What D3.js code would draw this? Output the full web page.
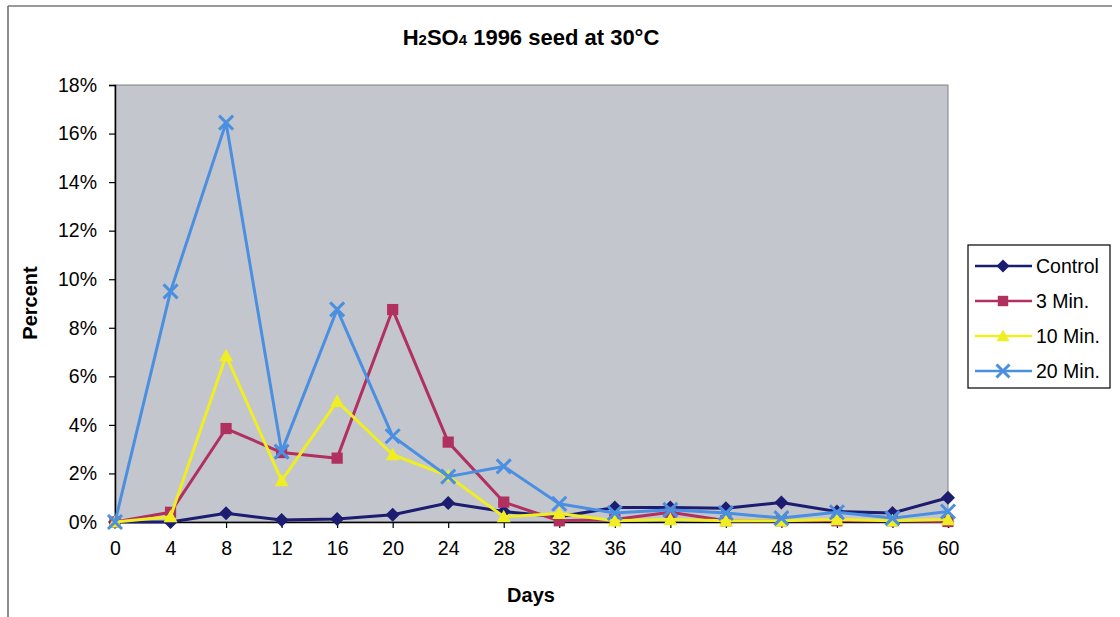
<!DOCTYPE html>
<html>
<head>
<meta charset="utf-8">
<script src="https://cdn.jsdelivr.net/npm/d3@7"></script>
<style>
  body { margin: 0; background: #fff; }
  svg { display: block; font-family: Arial, "Liberation Sans", sans-serif; }
</style>
</head>
<body>
<div id="chart"></div>
<script>
// data (percent)
const days = [0, 4, 8, 12, 16, 20, 24, 28, 32, 36, 40, 44, 48, 52, 56, 60];
const control = [0, 0, 0.36, 0.08, 0.12, 0.3, 0.78, 0.43, 0.22, 0.6, 0.6, 0.57, 0.8, 0.43, 0.37, 1.0];
const min3 = [0, 0.4, 3.85, 2.86, 2.63, 8.75, 3.29, 0.82, 0.05, 0.1, 0.4, 0.05, 0.05, 0.05, 0.05, 0.02];
const min10 = [0, 0.22, 6.85, 1.7, 4.97, 2.77, 1.9, 0.22, 0.35, 0.05, 0.1, 0.05, 0.05, 0.1, 0.05, 0.1];
const min20 = [0, 9.5, 16.45, 2.9, 8.76, 3.53, 1.87, 2.29, 0.75, 0.37, 0.5, 0.37, 0.16, 0.4, 0.16, 0.43];
const yTicks = [0, 2, 4, 6, 8, 10, 12, 14, 16, 18];

const series = [
  { name: "Control", values: control, color: "#1c1c70", marker: "diamond" },
  { name: "3 Min.", values: min3, color: "#b0305f", marker: "square" },
  { name: "10 Min.", values: min10, color: "#eeee22", marker: "triangle" },
  { name: "20 Min.", values: min20, color: "#4a8fe0", marker: "cross" }
];

const W = 1120, H = 617;
const plot = { left: 115, right: 948, top: 85, bottom: 522 };

const svg = d3.select("#chart").append("svg")
  .attr("width", W).attr("height", H);

// outer frame (scanned chart border)
svg.append("line").attr("x1", 8).attr("x2", 8).attr("y1", 6).attr("y2", H)
  .attr("stroke", "#666").attr("stroke-width", 1.5);
svg.append("line").attr("x1", 8).attr("x2", 1112).attr("y1", 6).attr("y2", 6)
  .attr("stroke", "#777").attr("stroke-width", 1.5);

const x = d3.scaleLinear().domain([0, 60]).range([plot.left, plot.right]);
const y = d3.scaleLinear().domain([0, 18]).range([plot.bottom, plot.top]);

// plot area
svg.append("rect")
  .attr("x", plot.left).attr("y", plot.top)
  .attr("width", plot.right - plot.left).attr("height", plot.bottom - plot.top)
  .attr("fill", "#c4c6cd").attr("stroke", "#808080").attr("stroke-width", 1);

// axes
const yAxis = svg.append("g")
  .attr("transform", `translate(${plot.left},0)`)
  .call(d3.axisLeft(y).tickValues(yTicks).tickSize(6).tickPadding(12).tickFormat(d => d + "%"));
const xAxis = svg.append("g")
  .attr("transform", `translate(0,${plot.bottom})`)
  .call(d3.axisBottom(x).tickValues(days).tickSize(6).tickPadding(13).tickFormat(d3.format("d")));

[yAxis, xAxis].forEach(a => {
  a.select(".domain").attr("stroke", "#000").attr("stroke-width", 1.5);
  a.selectAll(".tick line").attr("stroke", "#000").attr("stroke-width", 1.2);
  a.selectAll("text").attr("font-size", 19.5).attr("fill", "#000")
    .attr("font-family", "Arial, 'Liberation Sans', sans-serif");
});

// titles
const title = svg.append("text")
  .attr("x", 531).attr("y", 45)
  .attr("text-anchor", "middle")
  .attr("font-size", 22).attr("font-weight", "bold");
title.append("tspan").text("H");
title.append("tspan").attr("font-size", 15).text("2");
title.append("tspan").text("SO");
title.append("tspan").attr("font-size", 15).text("4");
title.append("tspan").text(" 1996 seed at 30°C");

svg.append("text")
  .attr("x", 531).attr("y", 602)
  .attr("text-anchor", "middle")
  .attr("font-size", 20).attr("font-weight", "bold")
  .text("Days");

svg.append("text")
  .attr("transform", "translate(37,303) rotate(-90)")
  .attr("text-anchor", "middle")
  .attr("font-size", 20).attr("font-weight", "bold")
  .text("Percent");

// markers
function drawMarker(g, type, color, size) {
  const s = size;
  if (type === "diamond") {
    g.append("path").attr("d", `M0,${-s}L${s},0L0,${s}L${-s},0Z`).attr("fill", color);
  } else if (type === "square") {
    g.append("rect").attr("x", -s * 0.8).attr("y", -s * 0.8)
      .attr("width", s * 1.6).attr("height", s * 1.6).attr("fill", color);
  } else if (type === "triangle") {
    g.append("path").attr("d", `M0,${-s}L${s},${s * 0.8}L${-s},${s * 0.8}Z`).attr("fill", color);
  } else {
    g.append("path").attr("d", `M${-s},${-s}L${s},${s}M${-s},${s}L${s},${-s}`)
      .attr("stroke", color).attr("stroke-width", 3).attr("fill", "none");
  }
}

const line = d3.line().x(d => x(d.day)).y(d => y(d.v));

series.forEach(s => {
  const pts = days.map((d, i) => ({ day: d, v: s.values[i] }));
  const g = svg.append("g");
  g.append("path").datum(pts)
    .attr("d", line)
    .attr("fill", "none")
    .attr("stroke", s.color)
    .attr("stroke-width", 3)
    .attr("stroke-linejoin", "round");
  g.selectAll(".m").data(pts).join("g")
    .attr("transform", d => `translate(${x(d.day)},${y(d.v)})`)
    .each(function () { drawMarker(d3.select(this), s.marker, s.color, 7); });
});

// legend
const legend = svg.append("g").attr("transform", "translate(968,245)");
legend.append("rect").attr("width", 142).attr("height", 143)
  .attr("fill", "#fff").attr("stroke", "#000").attr("stroke-width", 1.2);
series.forEach((s, i) => {
  const ly = 21 + i * 35;
  const item = legend.append("g").attr("transform", `translate(0,${ly})`);
  item.append("line").attr("x1", 7).attr("x2", 64).attr("y1", 0).attr("y2", 0)
    .attr("stroke", s.color).attr("stroke-width", 2.5);
  const m = item.append("g").attr("transform", "translate(35,0)");
  drawMarker(m, s.marker, s.color, 6.5);
  item.append("text").attr("x", 68).attr("y", 7)
    .attr("font-size", 19.5).text(s.name);
});
</script>
</body>
</html>
